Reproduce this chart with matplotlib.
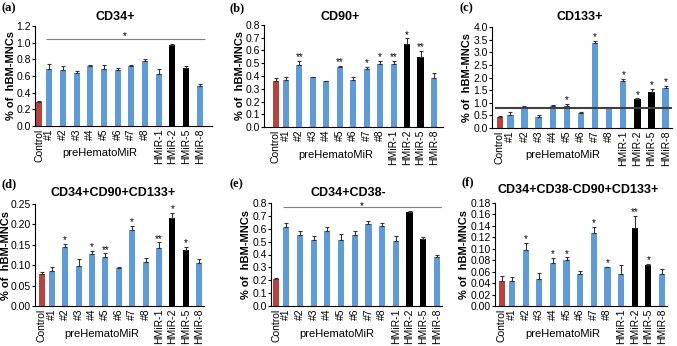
import numpy as np
import matplotlib
matplotlib.use("Agg")
import matplotlib.pyplot as plt

plt.rcParams['font.family'] = ['Liberation Sans', 'DejaVu Sans']

W, H = 677, 346

groups = ["Control", "#1", "#2", "#3", "#4", "#5", "#6", "#7", "#8",
          "HMiR-1", "HMiR-2", "HMiR-5", "HMiR-8"]

# panel values (mean, upper error)
cd34 = [0.29, 0.69, 0.67, 0.635, 0.715, 0.68, 0.67, 0.715, 0.775, 0.625, 0.97, 0.695, 0.485]
cd34_err = [0.005, 0.06, 0.05, 0.02, 0.02, 0.055, 0.025, 0.012, 0.03, 0.06, 0.02, 0.025, 0.015]

cd90 = [0.36, 0.365, 0.49, 0.39, 0.357, 0.467, 0.365, 0.457, 0.493, 0.493, 0.65, 0.546, 0.386]
cd90_err = [0.025, 0.025, 0.03, 0.005, 0.003, 0.013, 0.025, 0.013, 0.027, 0.024, 0.045, 0.05, 0.04]
cd90_sig = ["", "", "**", "", "", "**", "", "*", "*", "**", "*", "**", ""]

cd133 = [0.43, 0.52, 0.82, 0.45, 0.88, 0.87, 0.60, 3.38, 0.79, 1.88, 1.13, 1.41, 1.59]
cd133_err = [0.04, 0.1, 0.06, 0.05, 0.02, 0.09, 0.03, 0.07, 0.05, 0.05, 0.04, 0.13, 0.07]
cd133_sig = ["", "", "", "", "", "*", "", "*", "", "*", "*", "*", "*"]
cd133_ref = 0.79

triple = [0.078, 0.087, 0.144, 0.099, 0.127, 0.119, 0.093, 0.186, 0.107, 0.141, 0.215, 0.137, 0.105]
triple_err = [0.006, 0.008, 0.009, 0.017, 0.008, 0.01, 0.002, 0.011, 0.011, 0.015, 0.014, 0.008, 0.009]
triple_sig = ["", "", "*", "", "*", "**", "", "*", "", "**", "*", "*", ""]

cd38neg = [0.213, 0.61, 0.553, 0.51, 0.584, 0.51, 0.55, 0.64, 0.623, 0.506, 0.727, 0.52, 0.377]
cd38neg_err = [0.007, 0.037, 0.031, 0.03, 0.031, 0.048, 0.03, 0.017, 0.021, 0.039, 0.008, 0.015, 0.018]

quad = [0.044, 0.044, 0.098, 0.047, 0.076, 0.080, 0.056, 0.127, 0.068, 0.056, 0.136, 0.072, 0.056]
quad_err = [0.008, 0.006, 0.012, 0.011, 0.008, 0.005, 0.005, 0.011, 0.001, 0.016, 0.021, 0.001, 0.008]
quad_sig = ["", "", "*", "", "*", "*", "", "*", "*", "", "**", "*", ""]

red = "#B4443F"
blue = "#5F9BD6"
colors = [red] + [blue] * 9 + ["black", "black", blue]

x = np.arange(len(groups), dtype=float)
x[0] = 0.25

# label, title, values, err, stars, ylim, ystep, fmt, px box (l, r, top, bottom), xlim, title xy, label xy, ylabel x
panels = [
    ("(a)", "CD34+", cd34, cd34_err, None, 1.2, 0.2, "%.1f", (35, 212, 26, 126), (-0.05, 12.9), (115, 17), (2, 8), 16),
    ("(b)", "CD90+", cd90, cd90_err, cd90_sig, 0.8, 0.1, "%.1f", (264, 443, 25, 127), (-0.62, 12.67), (340, 17), (229, 8), 245),
    ("(c)", "CD133+", cd133, cd133_err, cd133_sig, 4.0, 0.5, "%.1f", (492, 672, 27, 128), (-0.3, 12.45), (580, 17), (459, 8), 472),
    ("(d)", "CD34+CD90+CD133+", triple, triple_err, triple_sig, 0.25, 0.05, "%.2f", (35, 204, 204, 306), (-0.25, 12.35), (113, 193), (1, 184), 11),
    ("(e)", "CD34+CD38-", cd38neg, cd38neg_err, None, 0.8, 0.1, "%.1f", (271, 442, 203, 306), (-0.12, 12.37), (348, 193), (229, 184), 251),
    ("(f)", "CD34+CD38-CD90+CD133+", quad, quad_err, quad_sig, 0.18, 0.02, "%.2f", (495, 667, 203, 306), (-0.25, 12.37), (578, 190), (462, 182), 469),
]

fig = plt.figure(figsize=(W / 100, H / 100), dpi=100)

for lab, title, vals, err, sig, ymax, ystep, fmt, box, xlim, tpos, lpos, ylx in panels:
    l, r, t, b = box
    ax = fig.add_axes([l / W, (H - b) / H, (r - l) / W, (b - t) / H])
    ax.bar(x, vals, width=0.45, color=colors, zorder=2)
    ax.errorbar(x, vals, yerr=[np.zeros(len(vals)), err], fmt="none",
                ecolor="#333333", elinewidth=0.8, capsize=1.5, capthick=0.8, zorder=3)
    ax.set_xlim(*xlim)
    ax.set_ylim(0, ymax)
    ax.set_yticks(np.arange(0, ymax + ystep / 2, ystep))
    ax.yaxis.set_major_formatter(matplotlib.ticker.FormatStrFormatter(fmt))
    ax.tick_params(axis="y", labelsize=7.5, length=2.5, width=0.8, pad=0.5)
    ax.set_xticks(x)
    ax.set_xticklabels(groups, rotation=90, fontsize=7.5)
    ax.tick_params(axis="x", length=0, pad=2)
    for s in ["top", "right"]:
        ax.spines[s].set_visible(False)
    ax.spines["left"].set_linewidth(0.8)
    ax.spines["bottom"].set_linewidth(0.8)

    if sig is not None:
        for xi, v, e, s in zip(x, vals, err, sig):
            if s:
                ax.annotate(s, (xi, v + e), xytext=(0, 0.5), textcoords="offset points",
                            ha="center", va="baseline", fontsize=7)

    ax.set_ylabel("% of  hBM-MNCs", fontsize=8, fontweight="bold")
    ax.yaxis.set_label_coords((ylx - l) / (r - l), 0.5)
    ax.text(4.7, -0.27, "preHematoMiR", transform=ax.get_xaxis_transform(),
            ha="center", va="center", fontsize=8)

    fig.text(tpos[0] / W, 1 - tpos[1] / H, title, ha="center", va="center",
             fontsize=9, fontweight="bold")
    fig.text(lpos[0] / W, 1 - lpos[1] / H, lab, ha="left", va="center",
             fontsize=9, fontweight="bold", family="Liberation Serif")

    if title == "CD34+":
        ax.hlines(1.05, 0.75, 12.4, color="#808080", lw=0.8)
        ax.annotate("*", (6.5, 1.05), xytext=(0, -0.3), textcoords="offset points",
                    ha="center", va="baseline", fontsize=7)
    if title == "CD34+CD38-":
        ax.hlines(0.766, 0.75, 12.4, color="#808080", lw=0.8)
        ax.annotate("*", (6.5, 0.766), xytext=(0, -1.5), textcoords="offset points",
                    ha="center", va="baseline", fontsize=7)
    if title == "CD133+":
        ax.axhline(cd133_ref, xmin=0.02, color="#404040", lw=1.5, zorder=4)

fig.savefig("out.png", dpi=100)
